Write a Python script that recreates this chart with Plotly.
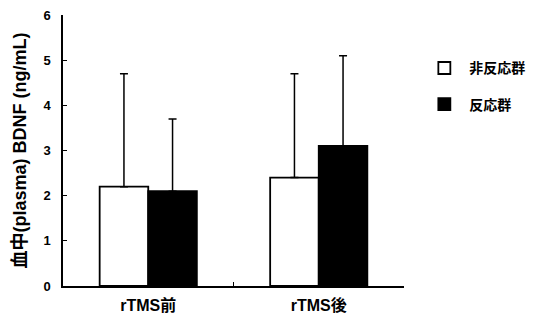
import plotly.graph_objects as go

categories = ["rTMS前", "rTMS後"]
series_names = ["非反応群", "反応群"]
nonresp_mean = [2.2, 2.4]
nonresp_err = [2.5, 2.3]
resp_mean = [2.1, 3.1]
resp_err = [1.6, 2.0]
y_ticks = [0, 1, 2, 3, 4, 5, 6]
y_title = "血中(plasma) BDNF (ng/mL)"

FONT = "Liberation Sans, Arial, Noto Sans CJK JP, sans-serif"

fig = go.Figure()
fig.add_trace(go.Bar(
    x=categories, y=nonresp_mean, name=series_names[0],
    marker=dict(color="white", line=dict(color="black", width=1.8)),
    error_y=dict(type="data", array=nonresp_err, arrayminus=[0, 0], symmetric=False,
                 color="black", thickness=1.5, width=4),
    legendgroup="a",
))
fig.add_trace(go.Bar(
    x=categories, y=resp_mean, name=series_names[1],
    marker=dict(color="black", line=dict(color="black", width=1.8)),
    error_y=dict(type="data", array=resp_err, arrayminus=[0, 0], symmetric=False,
                 color="black", thickness=1.5, width=4),
    legendgroup="b",
))

fig.update_layout(
    width=555, height=322,
    margin=dict(l=63, r=151, t=8, b=35),
    paper_bgcolor="white", plot_bgcolor="white",
    barmode="group", bargap=0.43, bargroupgap=0,
    font=dict(family=FONT, color="black", size=13, weight="bold"),
    showlegend=True,
    legend=dict(x=1.045, y=0.862, xanchor="left", yanchor="top",
                font=dict(size=14, weight="bold"), tracegroupgap=15,
                itemwidth=40, bgcolor="rgba(0,0,0,0)"),
    xaxis=dict(showline=True, linecolor="black", linewidth=1.5,
               ticks="inside", tickson="boundaries", ticklen=4, tickcolor="black",
               range=[-0.5, 1.5], showgrid=False, zeroline=False,
               tickfont=dict(size=16, weight="bold"), ticklabelstandoff=4),
    yaxis=dict(showline=True, linecolor="black", linewidth=1.5,
               range=[0, 6], tickvals=y_ticks, ticks="inside", ticklen=4,
               tickcolor="black", showgrid=False, zeroline=False,
               tickfont=dict(size=13, weight="bold"), ticklabelstandoff=8,
               title=dict(text=y_title, font=dict(size=18, weight="bold"), standoff=12)),
)

fig.write_html("out.html")
